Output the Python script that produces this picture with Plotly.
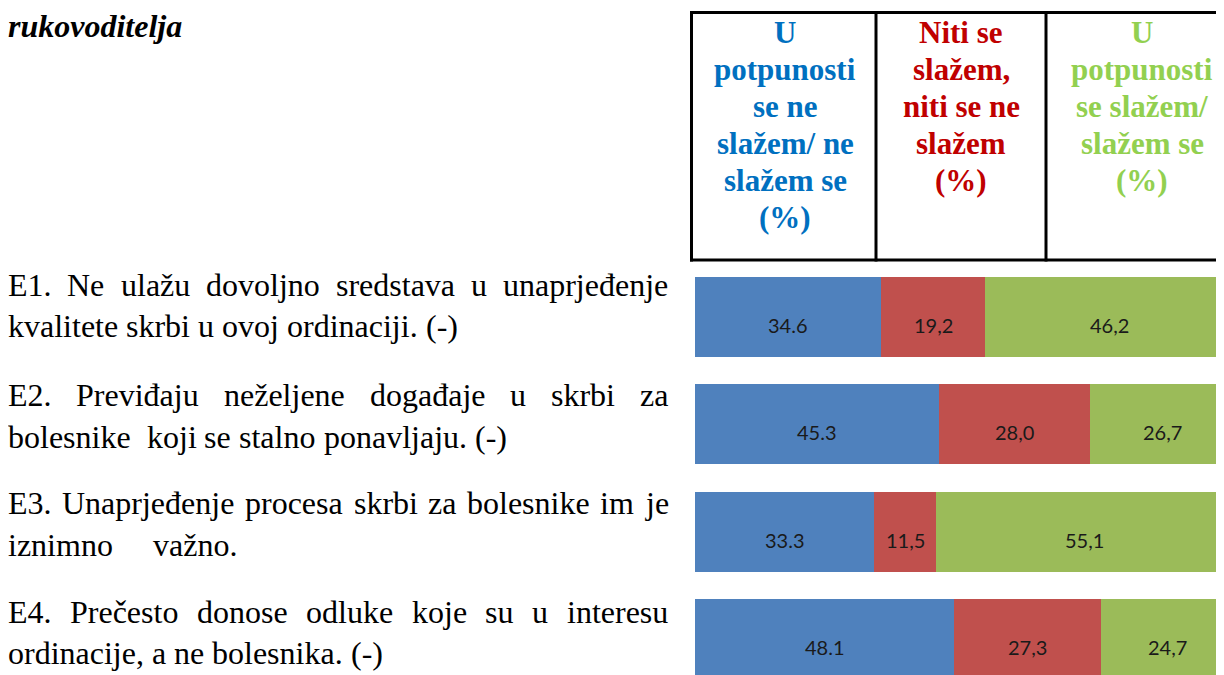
import plotly.graph_objects as go

# ---------------- data ----------------
items = ["E1", "E2", "E3", "E4"]
disagree = [34.6, 45.3, 33.3, 48.1]   # U potpunosti se ne slažem / ne slažem se (%)
neutral = [19.2, 28.0, 11.5, 27.3]    # Niti se slažem, niti se ne slažem (%)
agree = [46.2, 26.7, 55.1, 24.7]      # U potpunosti se slažem / slažem se (%)

disagree_labels = [f"{v:.1f}" for v in disagree]
neutral_labels = [f"{v:.1f}".replace(".", ",") for v in neutral]
agree_labels = [f"{v:.1f}".replace(".", ",") for v in agree]

header_lines = [
    ["U", "potpunosti", "se ne", "slažem/ ne", "slažem se", "(%)"],
    ["Niti se", "slažem,", "niti se ne", "slažem", "(%)"],
    ["U", "potpunosti", "se slažem/", "slažem se", "(%)"],
]
statement_lines = [
    ["E1. Ne ulažu dovoljno sredstava u unaprjeđenje", "kvalitete skrbi u ovoj ordinaciji. (-)"],
    ["E2. Previđaju neželjene događaje u skrbi za", "bolesnike  koji se stalno ponavljaju. (-)"],
    ["E3. Unaprjeđenje procesa skrbi za bolesnike im je", "iznimno     važno."],
    ["E4. Prečesto donose odluke koje su u interesu", "ordinacije, a ne bolesnika. (-)"],
]
caption = "rukovoditelja"

# ---------------- styling / layout ----------------
SW, SH = 1224, 675          # screen size
OFF = 8                     # default page margin of the html body
FW, FH = SW - OFF, SH - OFF  # figure size so that it ends at the window edge
BLUE, RED, GREEN = "#4F81BD", "#C0504D", "#9BBB59"
HEAD_COLORS = ["#0070C0", "#C00000", "#92D050"]
SERIF = "Liberation Serif, Times New Roman, serif"
LABEL_FONT = "Lato, Carlito, Calibri, sans-serif"


def px_x(p):
    return (p - OFF) / FW


def px_y(p):
    return 1 - (p - OFF) / FH


# Times-compatible advance widths (em) for justified text layout
TW = {" ": 0.25, "E": 0.611, "N": 0.722, "P": 0.556, "U": 0.722, ".": 0.25, ",": 0.25,
      "(": 0.333, ")": 0.333, "-": 0.333, "a": 0.444, "b": 0.5, "c": 0.444, "č": 0.444,
      "d": 0.5, "đ": 0.5, "e": 0.444, "g": 0.5, "i": 0.278, "j": 0.278, "k": 0.5,
      "l": 0.278, "m": 0.778, "n": 0.5, "o": 0.5, "p": 0.5, "r": 0.333, "s": 0.389,
      "t": 0.278, "u": 0.5, "v": 0.5, "z": 0.444, "ž": 0.444}


def tw(s, size):
    return sum(TW.get(c, 0.5) for c in s) * size


fig = go.Figure()
for vals, col, name in [(disagree, BLUE, "ne slažem"), (neutral, RED, "niti"), (agree, GREEN, "slažem")]:
    fig.add_trace(go.Bar(y=items, x=vals, orientation="h", marker=dict(color=col, line=dict(width=0)),
                         width=0.745, name=name, hoverinfo="x+name"))

annotations = []
# value labels
for i, it in enumerate(items):
    start = 0
    for vals, labs in [(disagree, disagree_labels), (neutral, neutral_labels), (agree, agree_labels)]:
        annotations.append(dict(x=start + vals[i] / 2, y=it, xref="x", yref="y", text=labs[i],
                                showarrow=False, yshift=-8,
                                font=dict(family=LABEL_FONT, size=20, color="#1A1A1A")))
        start += vals[i]

# left gray edge of each bar
shapes = []
for i, it in enumerate(items):
    shapes.append(dict(type="rect", xref="x", yref="y", xsizemode="pixel", xanchor=0,
                       x0=-2.5, x1=0, y0=i - 0.3725, y1=i + 0.3725,
                       fillcolor="#808080", line=dict(width=0)))

# header table
LINE = dict(color="black", width=3)
shapes += [
    dict(type="line", xref="paper", yref="paper", x0=px_x(690), x1=1.01, y0=px_y(12.5), y1=px_y(12.5), line=LINE),
    dict(type="line", xref="paper", yref="paper", x0=px_x(690), x1=1.01, y0=px_y(260), y1=px_y(260), line=LINE),
    dict(type="line", xref="paper", yref="paper", x0=px_x(691.5), x1=px_x(691.5), y0=px_y(11), y1=px_y(261.5), line=LINE),
    dict(type="line", xref="paper", yref="paper", x0=px_x(876), x1=px_x(876), y0=px_y(11), y1=px_y(261.5), line=LINE),
    dict(type="line", xref="paper", yref="paper", x0=px_x(1046), x1=px_x(1046), y0=px_y(11), y1=px_y(261.5), line=LINE),
]
col_centers = [785, 961, 1142]
for lines, cx, colr in zip(header_lines, col_centers, HEAD_COLORS):
    for k, ln in enumerate(lines):
        annotations.append(dict(x=px_x(cx), y=px_y(32.5 + 37 * k), xref="paper", yref="paper",
                                xanchor="center", yanchor="middle", text=f"<b>{ln}</b>",
                                showarrow=False, borderpad=0, borderwidth=0,
                                font=dict(family=SERIF, size=31, color=colr)))

# caption fragment (top-left), kept inside the figure's top edge
annotations.append(dict(x=px_x(8), y=1, xref="paper", yref="paper", xanchor="left",
                        yanchor="top", text=f"<b><i>{caption}</i></b>", showarrow=False,
                        borderpad=0, borderwidth=0, font=dict(family=SERIF, size=32, color="black")))

# statements (first line justified)
FS = 32
LEFT, RIGHT = 8, 668
line_y = [[285, 326], [395, 437], [503, 545], [612, 653]]
for para, ys in zip(statement_lines, line_y):
    for j, (ln, yy) in enumerate(zip(para, ys)):
        tokens = ln.split(" ")
        widths = [tw(t, FS) for t in tokens]
        if j == 0 and len(tokens) > 1:
            gap = (RIGHT - LEFT - sum(widths)) / (len(tokens) - 1)
        else:
            gap = TW[" "] * FS
        x = LEFT
        for t, wd in zip(tokens, widths):
            if t:
                annotations.append(dict(x=px_x(x), y=px_y(yy), xref="paper", yref="paper",
                                        xanchor="left", yanchor="middle", text=t, showarrow=False,
                                        borderpad=0, borderwidth=0,
                                        font=dict(family=SERIF, size=FS, color="black")))
            x += wd + gap

# y range so that rows sit at the reference positions (row centre = 317 + 107.4*i screen px)
y_top = (OFF - 317.0) / 107.4
y_bot = (SH - 317.0) / 107.4

fig.update_layout(
    width=FW, height=FH, margin=dict(l=0, r=0, t=0, b=0),
    paper_bgcolor="white", plot_bgcolor="rgba(0,0,0,0)",
    barmode="stack", showlegend=False,
    xaxis=dict(domain=[px_x(695), 1], range=[0, (SW - 695) / 5.39], visible=False, fixedrange=True),
    yaxis=dict(domain=[0, 1], range=[y_bot, y_top], visible=False, type="category",
               categoryorder="array", categoryarray=items, fixedrange=True),
    annotations=annotations, shapes=shapes,
)

fig.write_html("out.html")
